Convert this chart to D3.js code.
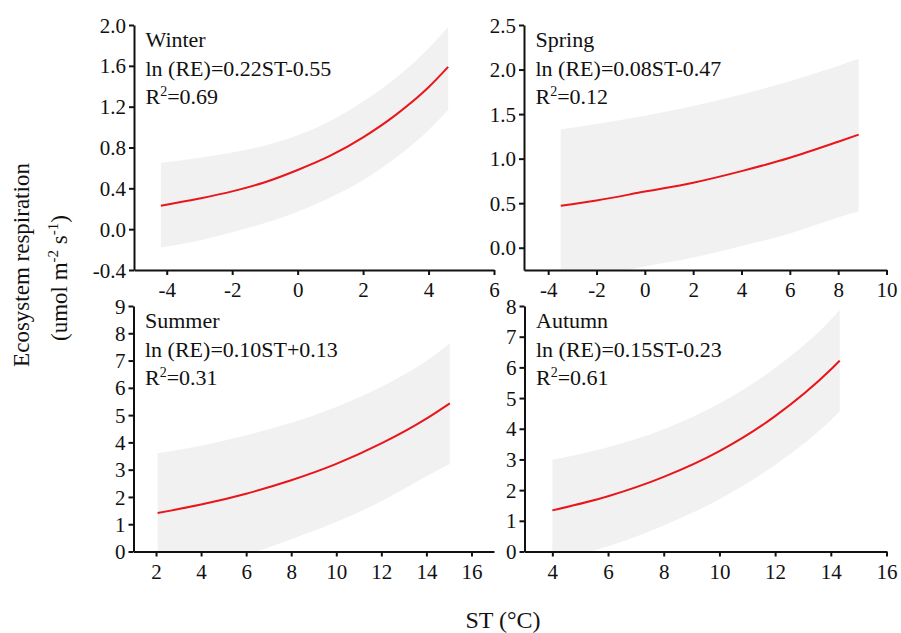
<!DOCTYPE html>
<html>
<head>
<meta charset="utf-8">
<script src="https://cdn.jsdelivr.net/npm/d3@7"></script>
<style>
  html, body { margin: 0; padding: 0; background: #fff; }
  svg { display: block; }
  svg text { font-family: "Liberation Serif", "Times New Roman", serif !important; fill: #111; }
</style>
</head>
<body>
<svg id="chart" width="901" height="633"></svg>
<script>
// ---------- data ----------
const seasons = ["Winter", "Spring", "Summer", "Autumn"];
const equations = ["ln (RE)=0.22ST-0.55", "ln (RE)=0.08ST-0.47", "ln (RE)=0.10ST+0.13", "ln (RE)=0.15ST-0.23"];
const r2Values = ["0.69", "0.12", "0.31", "0.61"];

// Winter
const winterST    = [-4.18, -3, -2, -1, 0, 1, 2, 3, 4, 4.6];
const winterRE    = [0.23, 0.30, 0.37, 0.46, 0.58, 0.72, 0.90, 1.12, 1.39, 1.59];
const winterUpper = [0.65, 0.70, 0.75, 0.82, 0.92, 1.06, 1.25, 1.48, 1.77, 1.98];
const winterLower = [-0.18, -0.11, -0.03, 0.06, 0.17, 0.31, 0.48, 0.70, 0.97, 1.17];

// Spring
const springST    = [-3.48, -2, 0, 2, 4, 6, 8, 8.85];
const springRE    = [0.47, 0.53, 0.63, 0.73, 0.86, 1.01, 1.19, 1.27];
const springUpper = [1.33, 1.39, 1.48, 1.59, 1.72, 1.87, 2.04, 2.12];
const springLower = [-0.39, -0.32, -0.21, -0.11, 0.02, 0.16, 0.34, 0.41];

// Summer
const summerST    = [2.07, 4, 6, 8, 10, 12, 14, 15.04];
const summerRE    = [1.41, 1.72, 2.12, 2.61, 3.21, 3.96, 4.87, 5.43];
const summerUpper = [3.60, 3.88, 4.26, 4.72, 5.30, 6.04, 6.98, 7.63];
const summerLower = [-0.79, -0.45, -0.12, 0.45, 1.08, 1.84, 2.76, 3.21];

// Autumn
const autumnST    = [4, 6, 8, 10, 12, 14, 14.32];
const autumnRE    = [1.34, 1.80, 2.43, 3.27, 4.41, 5.93, 6.22];
const autumnUpper = [2.99, 3.40, 3.98, 4.82, 5.98, 7.55, 7.87];
const autumnLower = [-0.31, 0.17, 0.85, 1.70, 2.82, 4.28, 4.56];

// axis domains and tick labels
const xDomains = [[-5, 6], [-5, 10], [1, 17], [3, 16]];
const yDomains = [[-0.4, 2.0], [-0.25, 2.5], [0, 9], [0, 8]];
const xTicks = [[-4, -2, 0, 2, 4, 6], [-4, -2, 0, 2, 4, 6, 8, 10], [2, 4, 6, 8, 10, 12, 14, 16], [4, 6, 8, 10, 12, 14, 16]];
const yTicks = [[-0.4, 0.0, 0.4, 0.8, 1.2, 1.6, 2.0], [0.0, 0.5, 1.0, 1.5, 2.0, 2.5], [0,1,2,3,4,5,6,7,8,9], [0,1,2,3,4,5,6,7,8]];
const yDecimals = [1, 1, 0, 0];

// ---------- layout ----------
const boxes = [
  {x0: 134,   x1: 494,   yTop: 25,  yBot: 270},
  {x0: 524,   x1: 886.5, yTop: 25,  yBot: 270},
  {x0: 133.5, x1: 494,   yTop: 306, yBot: 551.5},
  {x0: 524.5, x1: 886.5, yTop: 306, yBot: 551.5}
];

const seriesST    = [winterST, springST, summerST, autumnST];
const seriesRE    = [winterRE, springRE, summerRE, autumnRE];
const seriesUpper = [winterUpper, springUpper, summerUpper, autumnUpper];
const seriesLower = [winterLower, springLower, summerLower, autumnLower];

const svg = d3.select("#chart");
const defs = svg.append("defs");
const fmtNum = (d, dec) => (d < 0 ? "-" : "") + Math.abs(d).toFixed(dec);
const SERIF = '"Liberation Serif", "Times New Roman", serif';

seasons.forEach((name, i) => {
  const b = boxes[i];
  const x = d3.scaleLinear().domain(xDomains[i]).range([b.x0, b.x1]);
  const y = d3.scaleLinear().domain(yDomains[i]).range([b.yBot, b.yTop]);
  const pts = seriesST[i].map((st, k) => ({
    st, re: seriesRE[i][k], up: seriesUpper[i][k], lo: seriesLower[i][k]
  }));

  defs.append("clipPath").attr("id", "clip" + i)
    .append("rect").attr("x", b.x0).attr("y", b.yTop - 5)
    .attr("width", b.x1 - b.x0).attr("height", b.yBot - b.yTop + 5);

  const g = svg.append("g");
  const plot = g.append("g").attr("clip-path", `url(#clip${i})`);

  const area = d3.area().curve(d3.curveMonotoneX)
    .x(d => x(d.st)).y0(d => y(d.lo)).y1(d => y(d.up));
  plot.append("path").datum(pts).attr("d", area)
    .attr("fill", "#f1f1f1").attr("stroke", "none");

  const line = d3.line().curve(d3.curveMonotoneX)
    .x(d => x(d.st)).y(d => y(d.re));
  plot.append("path").datum(pts).attr("d", line)
    .attr("fill", "none").attr("stroke", "#e8161b").attr("stroke-width", 2);

  // axes
  const ax = g.append("g").attr("transform", `translate(0,${b.yBot})`)
    .call(d3.axisBottom(x).tickValues(xTicks[i]).tickSize(5).tickSizeOuter(0).tickPadding(6)
      .tickFormat(d => fmtNum(d, 0)));
  const ay = g.append("g").attr("transform", `translate(${b.x0},0)`)
    .call(d3.axisLeft(y).tickValues(yTicks[i]).tickSize(5).tickSizeOuter(0).tickPadding(3)
      .tickFormat(d => fmtNum(d, yDecimals[i])));
  [ax, ay].forEach(a => {
    a.attr("font-family", null).attr("font-size", null);
    a.select(".domain").attr("stroke", "#111").attr("stroke-width", 2);
    a.selectAll(".tick line").attr("stroke", "#111").attr("stroke-width", 2);
    a.selectAll(".tick text").style("font-size", "21px")
      .style("font-family", SERIF).attr("fill", "#111");
  });
  ay.selectAll(".tick text").attr("dy", "0.34em");
  ax.selectAll(".tick text").attr("dy", "0.78em");

  // annotation
  const tx = b.x0 + 11.5;
  g.append("text").attr("x", tx).attr("y", b.yTop + 22).attr("font-size", 22).text(name);
  g.append("text").attr("x", tx).attr("y", b.yTop + 50.5).attr("font-size", 22).text(equations[i]);
  const r = g.append("text").attr("x", tx).attr("y", b.yTop + 79).attr("font-size", 22);
  r.append("tspan").text("R");
  r.append("tspan").attr("font-size", 14).attr("dy", -8).text("2");
  r.append("tspan").attr("dy", 8).text("=" + r2Values[i]);
});

// axis titles
svg.append("text").attr("transform", "translate(29,265) rotate(-90)")
  .attr("text-anchor", "middle").attr("font-size", 23).text("Ecosystem respiration");
const yt2 = svg.append("text").attr("transform", "translate(67,278) rotate(-90)")
  .attr("text-anchor", "middle").attr("font-size", 23);
yt2.append("tspan").text("(umol m");
yt2.append("tspan").attr("font-size", 15).attr("dy", -9).text("-2");
yt2.append("tspan").attr("dy", 9).text(" s");
yt2.append("tspan").attr("font-size", 15).attr("dy", -9).text("-1");
yt2.append("tspan").attr("dy", 9).text(")");

svg.append("text").attr("x", 503).attr("y", 628).attr("text-anchor", "middle")
  .attr("font-size", 24).text("ST (°C)");
</script>
</body>
</html>
